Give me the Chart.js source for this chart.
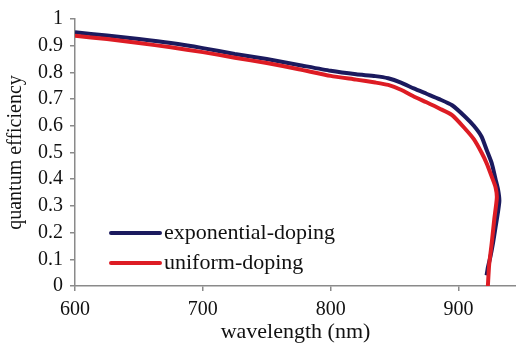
<!DOCTYPE html>
<html>
<head>
<meta charset="utf-8">
<script src="https://cdn.jsdelivr.net/npm/chart.js@4.4.1/dist/chart.umd.min.js"></script>
<style>
  html, body { margin: 0; padding: 0; background: #fff; }
  #wrap { width: 516px; height: 345px; }
</style>
</head>
<body>
<div id="wrap"><canvas id="qeChart" width="516" height="345"></canvas></div>
<script>
// exponential-doping curve (wavelength nm, quantum efficiency)
const waveExp = [600, 625, 650, 675, 700, 725, 750, 775, 800, 820, 835, 845, 855, 865, 875, 885, 895, 905, 912, 918, 922, 926, 929, 931, 932, 931, 929, 927, 925, 923, 922];
const qeExp = [0.95, 0.938, 0.925, 0.91, 0.891, 0.869, 0.85, 0.828, 0.806, 0.793, 0.786, 0.778, 0.762, 0.74, 0.72, 0.70, 0.677, 0.635, 0.60, 0.56, 0.51, 0.46, 0.40, 0.36, 0.32, 0.28, 0.22, 0.16, 0.11, 0.07, 0.04];

// uniform-doping curve
const waveUni = [600, 625, 650, 675, 700, 725, 750, 775, 800, 820, 835, 845, 855, 865, 875, 885, 895, 905, 912, 918, 922, 926, 929, 930, 928, 926, 924, 923];
const qeUni = [0.937, 0.925, 0.91, 0.894, 0.876, 0.855, 0.835, 0.812, 0.787, 0.773, 0.762, 0.753, 0.735, 0.71, 0.688, 0.665, 0.64, 0.59, 0.55, 0.50, 0.46, 0.41, 0.37, 0.33, 0.25, 0.16, 0.08, 0];

const xTicks = [600, 700, 800, 900];
const yTicks = [0, 0.1, 0.2, 0.3, 0.4, 0.5, 0.6, 0.7, 0.8, 0.9, 1];

const toPoints = (xs, ys) => xs.map((x, i) => ({ x: x, y: ys[i] }));

// legend drawn inside the plot area
const insideLegend = {
    id: 'insideLegend',
    afterDraw(chart) {
        const ctx = chart.ctx;
        const items = chart.data.datasets;
        ctx.save();
        ctx.font = '22px "Liberation Serif"';
        ctx.textBaseline = 'middle';
        ctx.fillStyle = '#111';
        items.forEach((ds, i) => {
            const y = 233 + i * 30;
            ctx.strokeStyle = ds.borderColor;
            ctx.lineWidth = 4;
            ctx.lineCap = 'round';
            ctx.beginPath();
            ctx.moveTo(111, y);
            ctx.lineTo(160, y);
            ctx.stroke();
            ctx.fillText(ds.label, 164, y);
        });
        ctx.restore();
    }
};

const ctx = document.getElementById('qeChart').getContext('2d');
const qeChart = new Chart(ctx, {
    type: 'scatter',
    data: {
        datasets: [
            {
                label: 'exponential-doping',
                data: toPoints(waveExp, qeExp),
                borderColor: '#1b1a5e',
                backgroundColor: '#1b1a5e',
                showLine: true,
                pointRadius: 0,
                borderWidth: 4,
                tension: 0.2,
                order: 2
            },
            {
                label: 'uniform-doping',
                data: toPoints(waveUni, qeUni),
                borderColor: '#dd1c24',
                backgroundColor: '#dd1c24',
                showLine: true,
                pointRadius: 0,
                borderWidth: 4,
                tension: 0.2,
                order: 1
            }
        ]
    },
    options: {
        responsive: false,
        animation: false,
        layout: { padding: { top: 18, right: 0, left: 0, bottom: 0 } },
        plugins: {
            legend: { display: false },
            tooltip: { enabled: false }
        },
        scales: {
            x: {
                type: 'linear',
                min: 600,
                max: 945,
                afterBuildTicks: (scale) => {
                    scale.ticks = xTicks.map(v => ({ value: v }));
                },
                afterFit: (scale) => { scale.height = 59; },
                ticks: {
                    color: '#111',
                    font: { family: 'Liberation Serif', size: 20 },
                    padding: 7,
                    maxRotation: 0,
                    autoSkip: false
                },
                grid: { drawOnChartArea: false, drawTicks: true, tickLength: 5, color: '#8a8a8a', lineWidth: 1.5 },
                border: { color: '#8a8a8a', width: 1.5 },
                title: {
                    display: true,
                    text: 'wavelength (nm)',
                    color: '#111',
                    font: { family: 'Liberation Serif', size: 22 },
                    padding: { top: 0, bottom: 0 }
                }
            },
            y: {
                min: 0,
                max: 1,
                afterBuildTicks: (scale) => {
                    scale.ticks = yTicks.map(v => ({ value: v }));
                },
                afterFit: (scale) => { scale.width = 75; },
                ticks: {
                    color: '#111',
                    font: { family: 'Liberation Serif', size: 20 },
                    padding: 7,
                    autoSkip: false,
                    callback: (v) => String(Math.round(v * 10) / 10)
                },
                grid: { drawOnChartArea: false, drawTicks: true, tickLength: 5, color: '#8a8a8a', lineWidth: 1.5 },
                border: { color: '#8a8a8a', width: 1.5 },
                title: {
                    display: true,
                    text: 'quantum efficiency',
                    color: '#111',
                    font: { family: 'Liberation Serif', size: 20 },
                    padding: { top: 4, bottom: 0 }
                }
            }
        }
    },
    plugins: [insideLegend]
});
</script>
</body>
</html>
